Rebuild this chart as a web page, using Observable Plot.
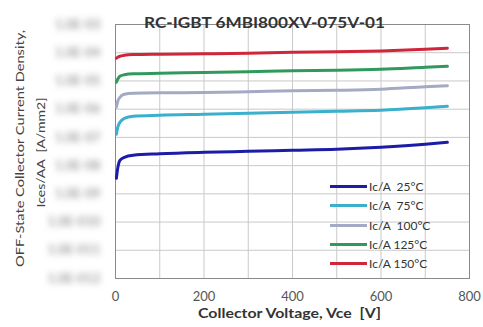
<!DOCTYPE html>
<html>
<head>
<meta charset="utf-8">
<script src="https://cdn.jsdelivr.net/npm/d3@7"></script>
<script src="https://cdn.jsdelivr.net/npm/@observablehq/plot@0.6"></script>
<style>
  html, body { margin: 0; padding: 0; background: #fff; }
  #wrap { position: relative; width: 483px; height: 327px; font-family: Lato, "Open Sans", sans-serif; }
  #legend { position: absolute; left: 330px; top: 177px; font-size: 12px; color: #333; }
  #legend .row { display: flex; align-items: center; height: 19.3px; }
  #legend .sw { width: 37px; height: 3px; margin-right: 2px; }
</style>
</head>
<body>
<div id="wrap"><div id="legend"></div></div>
<script>
const title = "RC-IGBT 6MBI800XV-075V-01";
const xLabel = "Collector Voltage, Vce  [V]";
const yLabel1 = "OFF-State Collector Current Density,";
const yLabel2 = "Ices/AA  [A/mm2]";

const voltage = [2, 5, 10, 20, 40, 100, 200, 300, 400, 500, 600, 700, 750];
const ic25  = [3.55e-9, 8.0e-9, 1.54e-8, 1.97e-8, 2.32e-8, 2.62e-8, 2.96e-8, 3.21e-8, 3.49e-8, 3.79e-8, 4.46e-8, 5.69e-8, 6.70e-8];
const ic75  = [1.29e-7, 2.28e-7, 3.43e-7, 4.75e-7, 5.60e-7, 6.08e-7, 6.59e-7, 7.16e-7, 7.76e-7, 8.43e-7, 9.14e-7, 1.12e-6, 1.27e-6];
const ic100 = [1.17e-6, 1.91e-6, 2.64e-6, 3.37e-6, 3.66e-6, 3.82e-6, 3.88e-6, 4.14e-6, 4.49e-6, 4.68e-6, 5.08e-6, 6.22e-6, 6.76e-6];
const ic125 = [9.0e-6, 1.15e-5, 1.47e-5, 1.66e-5, 1.80e-5, 1.87e-5, 1.99e-5, 2.12e-5, 2.30e-5, 2.39e-5, 2.60e-5, 3.06e-5, 3.32e-5];
const ic150 = [6.4e-5, 6.9e-5, 7.5e-5, 8.1e-5, 8.6e-5, 8.9e-5, 9.2e-5, 9.6e-5, 1.04e-4, 1.08e-4, 1.16e-4, 1.33e-4, 1.45e-4];

const seriesNames = ["Ic/A  25°C", "Ic/A  75°C", "Ic/A  100°C", "Ic/A 125°C", "Ic/A 150°C"];
const seriesValues = [ic25, ic75, ic100, ic125, ic150];
const seriesColors = ["#1c1ca8", "#3ab0cc", "#a4aac4", "#2f9a5c", "#d0263a"];

const xTicks = [0, 200, 400, 600, 800];
const xGrid = [0, 100, 200, 300, 400, 500, 600, 700, 800];
const yTicks = [1e-12, 1e-11, 1e-10, 1e-9, 1e-8, 1e-7, 1e-6, 1e-5, 1e-4, 1e-3];

const data = seriesNames.flatMap((s, k) =>
  voltage.map((v, i) => ({ s, v, i: seriesValues[k][i], color: seriesColors[k] })));

const plot = Plot.plot({
  width: 483,
  height: 327,
  marginLeft: 115,
  marginRight: 14,
  marginTop: 24,
  marginBottom: 49,
  style: { fontFamily: "Lato, 'Open Sans', sans-serif", background: "#fff" },
  x: { domain: [0, 800] },
  y: { type: "log", domain: [1e-12, 1e-3] },
  color: { type: "identity" },
  marks: [
    Plot.gridX(xGrid, { stroke: "#c9c9c9", strokeOpacity: 1, strokeWidth: 1 }),
    Plot.gridY(yTicks, { stroke: "#c9c9c9", strokeOpacity: 1, strokeWidth: 1 }),
    Plot.frame({ stroke: "#8a8a8a" }),
    Plot.axisX(xTicks, { tickSize: 0, tickPadding: 13, fontSize: 13, fill: "#555", label: null }),
    Plot.axisY(yTicks, { tickSize: 0, tickPadding: 15, fontSize: 13, fill: "#a0a0a0", fontWeight: "bold",
      tickFormat: d => d.toExponential(1).replace("e", "E").replace("-", "-0"), label: null }),
    Plot.line(data, { x: "v", y: "i", z: "s", stroke: "color", strokeWidth: 3, curve: "monotone-x" }),
    Plot.text([title], { frameAnchor: "top", dx: -28, dy: -7, fontSize: 14.5, fontWeight: "bold", fill: "#333" }),
    Plot.text([xLabel], { frameAnchor: "bottom", dx: -3, dy: 39, fontSize: 12.5, fontWeight: "bold", fill: "#333" }),
    Plot.text([yLabel1], { frameAnchor: "left", textAnchor: "middle", dx: -95, dy: -3, rotate: -90, fontSize: 12, fill: "#444" }),
    Plot.text([yLabel2], { frameAnchor: "left", textAnchor: "middle", dx: -74, dy: 1, rotate: -90, fontSize: 12, fill: "#444" })
  ]
});

plot.querySelectorAll('g[aria-label="y-axis tick label"] text').forEach(t => {
  t.style.filter = "blur(3px)";
});
const fitText = { [title]: 241, [xLabel]: 183, [yLabel1]: 237, [yLabel2]: 110 };
plot.querySelectorAll('g[aria-label="text"] text').forEach(t => {
  const w = fitText[t.textContent];
  if (w) { t.setAttribute("textLength", w); t.setAttribute("lengthAdjust", "spacingAndGlyphs"); }
});

const wrap = document.getElementById("wrap");
wrap.insertBefore(plot, wrap.firstChild);

const legend = document.getElementById("legend");
seriesNames.forEach((name, k) => {
  const row = document.createElement("div");
  row.className = "row";
  const sw = document.createElement("div");
  sw.className = "sw";
  sw.style.background = seriesColors[k];
  const label = document.createElement("span");
  label.textContent = name;
  label.style.whiteSpace = "pre";
  row.appendChild(sw);
  row.appendChild(label);
  legend.appendChild(row);
});
</script>
</body>
</html>
